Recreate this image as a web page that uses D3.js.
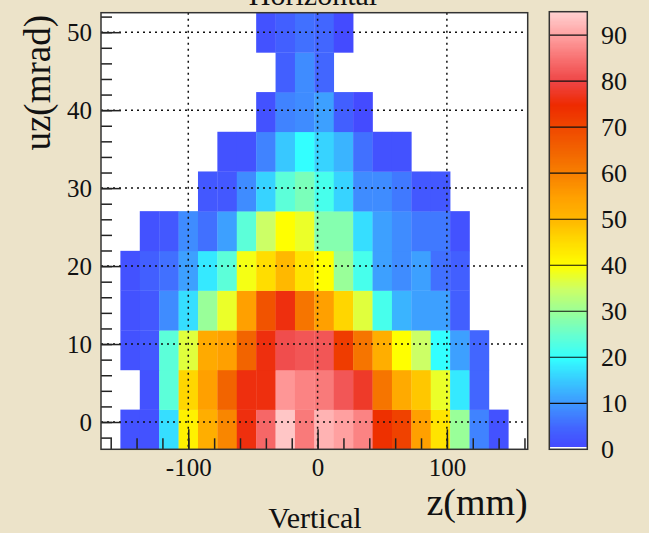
<!DOCTYPE html>
<html>
<head>
<meta charset="utf-8">
<script src="https://cdn.jsdelivr.net/npm/d3@7"></script>
<style>
  body { margin: 0; background: #ece3c9; }
  text { font-family: 'Liberation Serif', 'Times New Roman', serif; fill: #111; }
</style>
</head>
<body>
<div id="chart"></div>
<script>
// binning of the histogram
const zRange = [-167.5, 162.5]
const zBinCount = 22
const uzRange = [-3.5, 52.5]
const uzBinCount = 11

// bin contents, row 0 = lowest uz bin, one value per z bin (0 = empty)
const counts = [
  [0, 2, 2, 17, 42, 52, 59, 76, 84, 94, 86, 92, 90, 87, 74, 71, 55, 44, 30, 8, 2, 0],
  [0, 0, 2, 24, 46, 55, 65, 76, 76, 89, 87, 86, 82, 78, 62, 53, 48, 38, 18, 5, 0, 0],
  [0, 2, 3, 24, 37, 53, 55, 65, 76, 81, 82, 82, 72, 62, 52, 40, 35, 20, 11, 5, 0, 0],
  [0, 2, 3, 9, 17, 30, 38, 55, 68, 76, 62, 55, 46, 37, 22, 13, 11, 11, 4, 0, 0, 0],
  [0, 2, 4, 6, 11, 18, 24, 39, 45, 50, 44, 40, 30, 22, 11, 9, 11, 6, 4, 0, 0, 0],
  [0, 0, 2, 3, 9, 6, 11, 24, 35, 40, 38, 28, 28, 17, 11, 9, 7, 7, 2, 0, 0, 0],
  [0, 0, 0, 0, 0, 3, 3, 9, 16, 24, 27, 22, 16, 9, 9, 7, 3, 3, 0, 0, 0, 0],
  [0, 0, 0, 0, 0, 0, 2, 2, 8, 15, 20, 16, 13, 6, 2, 2, 0, 0, 0, 0, 0, 0],
  [0, 0, 0, 0, 0, 0, 0, 0, 2, 8, 9, 11, 4, 1, 0, 0, 0, 0, 0, 0, 0, 0],
  [0, 0, 0, 0, 0, 0, 0, 0, 0, 4, 9, 5, 0, 0, 0, 0, 0, 0, 0, 0, 0, 0],
  [0, 0, 0, 0, 0, 0, 0, 0, 2, 4, 6, 5, 1, 0, 0, 0, 0, 0, 0, 0, 0, 0]
]

const zMajorTicks = [-100, 0, 100]
const zMinorTicks = d3.range(-160, 161, 20)
const uzMajorTicks = [0, 10, 20, 30, 40, 50]
const uzMinorTicks = d3.range(-2, 53, 2)
const paletteTicks = [0, 10, 20, 30, 40, 50, 60, 70, 80, 90]
const paletteMax = 95.1

// palette stops
const paletteValues = [0, 5, 10, 15, 20, 25, 30, 35, 40, 45, 50, 55, 60, 65, 70, 75, 80, 85, 90, 95.1]
const paletteColors = ['#4444ff', '#4266ff', '#3e96ff', '#38c8ff', '#33ffff', '#66ffd0',
  '#99ff99', '#ccff66', '#ffff00', '#ffdd00', '#ffb800', '#ffa000', '#f88000', '#f26400',
  '#f04800', '#ee2a00', '#ee4444', '#f87070', '#ffa0a0', '#ffd0d0']

const width = 649
const height = 533
const frame = { left: 101, right: 527.7, top: 12.7, bottom: 449.3 }

const svg = d3
  .select('#chart')
  .append('svg')
  .attr('width', width)
  .attr('height', height)

const x = d3.scaleLinear().domain(zRange).range([frame.left, frame.right])
const y = d3.scaleLinear().domain(uzRange).range([frame.bottom, frame.top])
const color = d3.scaleLinear().domain(paletteValues).range(paletteColors)

const zStep = (zRange[1] - zRange[0]) / zBinCount
const uzStep = (uzRange[1] - uzRange[0]) / uzBinCount

// plot area
svg.append('rect')
  .attr('x', frame.left)
  .attr('y', frame.top)
  .attr('width', frame.right - frame.left)
  .attr('height', frame.bottom - frame.top)
  .attr('fill', '#fff')

const cells = []
counts.forEach((row, j) => {
  row.forEach((v, i) => {
    if (v > 0) cells.push({ i, j, v })
  })
})

svg.append('g')
  .selectAll('rect')
  .data(cells)
  .enter()
  .append('rect')
  .attr('x', d => x(zRange[0] + d.i * zStep))
  .attr('y', d => y(uzRange[0] + (d.j + 1) * uzStep))
  .attr('width', d => x(zRange[0] + (d.i + 1) * zStep) - x(zRange[0] + d.i * zStep) + 0.3)
  .attr('height', d => y(uzRange[0] + d.j * uzStep) - y(uzRange[0] + (d.j + 1) * uzStep) + 0.3)
  .attr('fill', d => color(d.v))

// grid
const grid = svg.append('g')
  .attr('stroke', '#111')
  .attr('stroke-width', 1.5)
  .attr('stroke-dasharray', '2,4')
grid.selectAll('.gx')
  .data(zMajorTicks)
  .enter()
  .append('line')
  .attr('x1', d => x(d)).attr('x2', d => x(d))
  .attr('y1', frame.top).attr('y2', frame.bottom)
grid.selectAll('.gy')
  .data(uzMajorTicks)
  .enter()
  .append('line')
  .attr('y1', d => y(d)).attr('y2', d => y(d))
  .attr('x1', frame.left).attr('x2', frame.right)

// axes
function styleAxis(g) {
  g.select('.domain').remove()
  g.selectAll('line').attr('stroke', '#222').attr('stroke-width', 1.5)
}

svg.append('g')
  .attr('transform', `translate(0,${frame.bottom})`)
  .call(d3.axisBottom(x).tickValues(zMinorTicks).tickSizeInner(-11).tickSizeOuter(0).tickFormat(''))
  .call(styleAxis)

svg.append('g')
  .attr('transform', `translate(0,${frame.bottom})`)
  .call(d3.axisBottom(x).tickValues(zMajorTicks).tickSizeInner(-20).tickSizeOuter(0).tickPadding(9)
    .tickFormat(d => String(d)))
  .call(styleAxis)
  .selectAll('text')
  .style('font-size', '25px')
  .attr('fill', '#111')

svg.append('g')
  .attr('transform', `translate(${frame.left},0)`)
  .call(d3.axisLeft(y).tickValues(uzMinorTicks).tickSizeInner(-11).tickSizeOuter(0).tickFormat(''))
  .call(styleAxis)

svg.append('g')
  .attr('transform', `translate(${frame.left},0)`)
  .call(d3.axisLeft(y).tickValues(uzMajorTicks).tickSizeInner(-20).tickSizeOuter(0).tickPadding(9))
  .call(styleAxis)
  .selectAll('text')
  .style('font-size', '25px')
  .attr('fill', '#111')

// frame
svg.append('rect')
  .attr('x', frame.left)
  .attr('y', frame.top)
  .attr('width', frame.right - frame.left)
  .attr('height', frame.bottom - frame.top)
  .attr('fill', 'none')
  .attr('stroke', '#333')
  .attr('stroke-width', 1.5)

// palette
const bar = { left: 549.3, right: 587.3, top: 11.7, bottom: 449.3 }
const cy = d3.scaleLinear().domain([0, paletteMax]).range([bar.bottom, bar.top])
const steps = d3.range(0, paletteMax, 0.25)

svg.append('g')
  .attr('shape-rendering', 'crispEdges')
  .selectAll('rect')
  .data(steps)
  .enter()
  .append('rect')
  .attr('x', bar.left)
  .attr('width', bar.right - bar.left)
  .attr('y', d => cy(Math.min(d + 0.25, paletteMax)))
  .attr('height', d => cy(d) - cy(Math.min(d + 0.25, paletteMax)) + 1)
  .attr('fill', d => (d < 0.55 ? '#fff' : color(d + 0.125)))

svg.append('g')
  .selectAll('line')
  .data(paletteTicks.slice(1))
  .enter()
  .append('line')
  .attr('x1', bar.left).attr('x2', bar.right)
  .attr('y1', d => cy(d)).attr('y2', d => cy(d))
  .attr('stroke', '#111')
  .attr('stroke-width', 1.2)

svg.append('rect')
  .attr('x', bar.left)
  .attr('y', bar.top)
  .attr('width', bar.right - bar.left)
  .attr('height', bar.bottom - bar.top)
  .attr('fill', 'none')
  .attr('stroke', '#333')
  .attr('stroke-width', 1.5)

svg.append('g')
  .selectAll('text')
  .data(paletteTicks)
  .enter()
  .append('text')
  .attr('x', 601)
  .attr('y', d => cy(d))
  .attr('dy', '0.33em')
  .style('font-size', '26px')
  .text(d => d)

// titles
svg.append('text')
  .attr('x', 313)
  .attr('y', 4.5)
  .attr('text-anchor', 'middle')
  .style('font-size', '30px')
  .text('Horizontal')

svg.append('text')
  .attr('x', 315)
  .attr('y', 528)
  .attr('text-anchor', 'middle')
  .style('font-size', '30px')
  .text('Vertical')

svg.append('text')
  .attr('x', frame.right)
  .attr('y', 515)
  .attr('text-anchor', 'end')
  .style('font-size', '38px')
  .text('z(mm)')

svg.append('text')
  .attr('transform', 'translate(50,15) rotate(-90)')
  .attr('text-anchor', 'end')
  .style('font-size', '37px')
  .text('uz(mrad)')
</script>
</body>
</html>
